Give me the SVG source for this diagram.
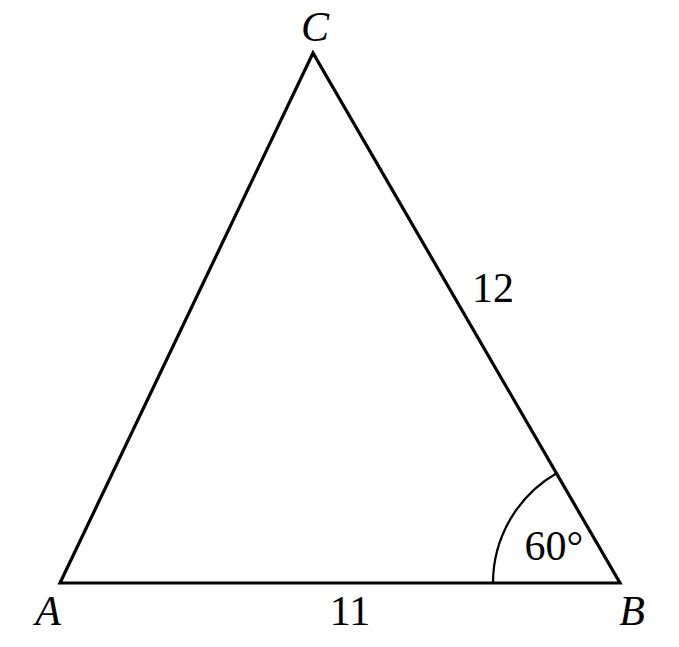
<svg xmlns="http://www.w3.org/2000/svg" width="679" height="647" viewBox="0 0 679 647">
<style>
.ln{fill:none;stroke:#000;stroke-width:3.2;stroke-linejoin:miter}
.t{font-family:"Liberation Serif","DejaVu Serif",serif;font-size:42px;fill:#000}
.v{font-style:italic}
</style>
<rect width="679" height="647" fill="#fff"/>
<g id="connectors">
<polygon class="ln" points="60,583 620,583 313,53"/>
<path class="ln" d="M493,583 A127,127 0 0 1 557,473" style="stroke-width:2.2"/>
</g>
<g id="A"><text class="t v" x="48" y="625" text-anchor="middle">A</text></g>
<g id="B"><text class="t v" x="632" y="625" text-anchor="middle">B</text></g>
<g id="C"><text class="t v" x="315" y="41" text-anchor="middle">C</text></g>
<g id="labels">
<text class="t" x="350" y="625" text-anchor="middle">11</text>
<text class="t" x="493" y="302" text-anchor="middle">12</text>
<text class="t" x="554" y="560" text-anchor="middle">60°</text>
</g>
</svg>
